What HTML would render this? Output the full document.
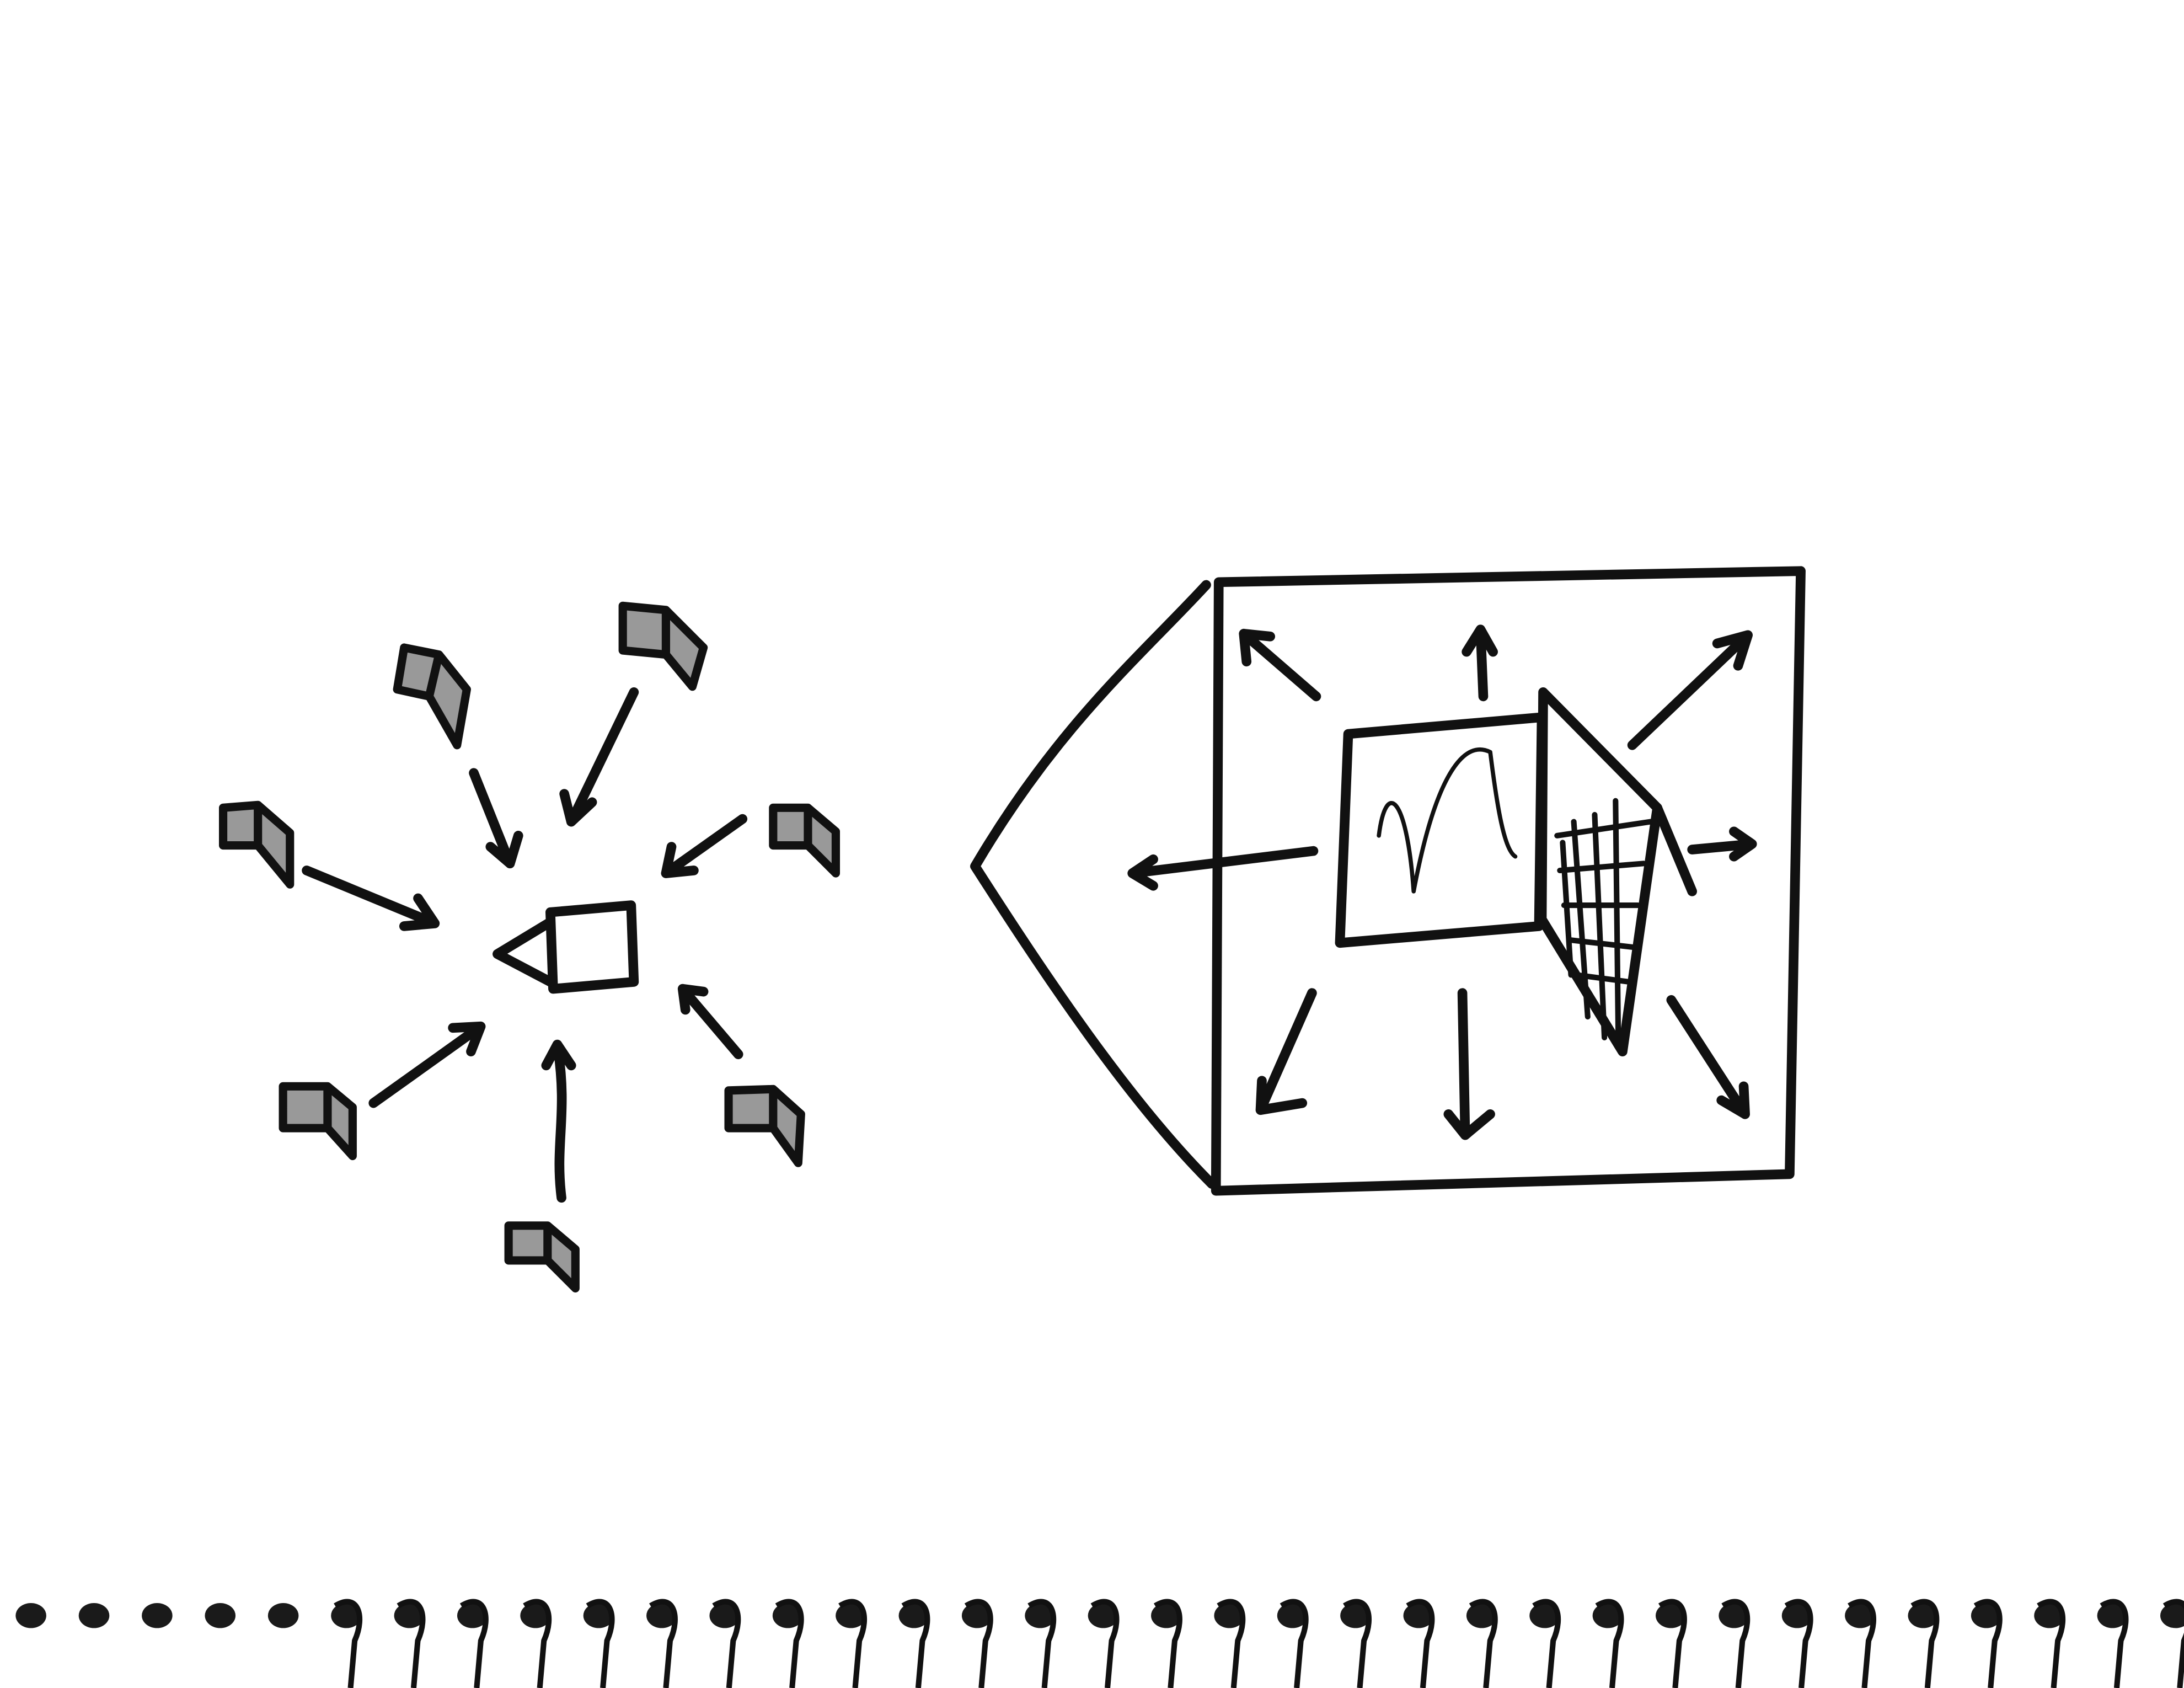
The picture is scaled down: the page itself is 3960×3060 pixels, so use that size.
<!DOCTYPE html>
<html><head><meta charset="utf-8"><style>
html,body{margin:0;padding:0;background:#fff;}
svg{display:block}
</style></head><body>
<svg width="3960" height="3060" viewBox="0 0 1568 1212" xmlns="http://www.w3.org/2000/svg">
<rect width="1568" height="1212" fill="#fff"/>
<g fill="none" stroke="#111" stroke-width="7" stroke-linecap="round" stroke-linejoin="round">
<g>
<path d="M875 418 L1293 410 L1285 843 L873 855 Z"/>
<path d="M866 420 C820 470 760 520 700 622 C750 700 810 790 870 850"/>
<path d="M968 527 L1107 515 L1105 665 L962 677 Z"/>
<path d="M990 600 C995 560 1010 570 1015 640 C1030 560 1050 530 1070 540 C1075 580 1080 610 1088 615" stroke-width="3"/>
<path d="M1108 497 L1107 660 L1165 755 L1190 580 Z"/>
<path d="M1190 580 L1215 640"/>
<path d="M1118 600 L1185 590 M1120 625 L1180 620 M1123 650 L1176 650 M1128 675 L1172 680 M1132 700 L1170 705" stroke-width="4"/>
<path d="M1130 590 L1140 730 M1145 585 L1152 745 M1160 575 L1162 750 M1122 605 L1128 700" stroke-width="4"/>
</g>
<g>
<path d="M945 500 L893 455 M893 455 L895 475 M893 455 L912 457"/>
<path d="M1065 500 L1063 452 M1063 452 L1053 468 M1063 452 L1072 468"/>
<path d="M1172 535 L1255 456 M1255 456 L1233 462 M1255 456 L1248 478"/>
<path d="M943 611 L813 627 M813 627 L828 617 M813 627 L828 636"/>
<path d="M1215 610 L1258 606 M1258 606 L1245 597 M1258 606 L1245 615"/>
<path d="M942 713 L905 797 M905 797 L906 776 M905 797 L935 792"/>
<path d="M1050 713 L1052 815 M1052 815 L1040 800 M1052 815 L1070 800"/>
<path d="M1200 718 L1253 800 M1253 800 L1236 790 M1253 800 L1252 780"/>
</g>
<g>
<path d="M395 655 L453 650 L455 705 L397 710 Z"/>
<path d="M395 662 L357 685 L395 705"/>
</g>
<g stroke-width="6" fill="#999">
<path d="M160 580 L185 578 L185 607 L160 607 Z M185 578 L208 598 L208 635 L185 607"/>
<path d="M290 465 L315 470 L308 500 L285 495 Z M315 470 L335 495 L328 535 L308 500"/>
<path d="M447 435 L478 438 L478 470 L447 467 Z M478 438 L505 465 L497 493 L478 470"/>
<path d="M555 580 L580 580 L580 607 L555 607 Z M580 580 L600 597 L600 627 L580 607"/>
<path d="M523 783 L555 782 L555 810 L523 810 Z M555 782 L575 800 L573 835 L555 810"/>
<path d="M203 780 L235 780 L235 810 L203 810 Z M235 780 L253 795 L253 830 L235 810"/>
<path d="M365 880 L393 880 L393 905 L365 905 Z M393 880 L413 897 L413 925 L393 905"/>
</g>
<g>
<path d="M220 625 L312 663 M312 663 L290 665 M312 663 L300 645"/>
<path d="M340 555 L366 620 M366 620 L352 608 M366 620 L372 600"/>
<path d="M455 497 L410 590 M410 590 L405 570 M410 590 L425 576"/>
<path d="M533 588 L478 627 M478 627 L482 608 M478 627 L498 625"/>
<path d="M530 757 L490 710 M490 710 L505 712 M490 710 L492 725"/>
<path d="M268 792 L345 737 M345 737 L325 738 M345 737 L338 755"/>
<path d="M403 860 C398 820 408 800 400 750 M400 750 L392 765 M400 750 L410 765"/>
</g>
</g>
<g id="spiral"></g>
<script>
var g=document.getElementById('spiral');
for(var i=0;i<35;i++){
  var x=22+i*45.3;
  var c=document.createElementNS('http://www.w3.org/2000/svg','ellipse');
  
  
  c.setAttribute('cx',x);c.setAttribute('cy',1160);c.setAttribute('rx',11);c.setAttribute('ry',9);
  c.setAttribute('fill','#1a1a1a');
  g.appendChild(c);
  if(i>=5){
    var p=document.createElementNS('http://www.w3.org/2000/svg','path');
    
    
    p.setAttribute('d','M'+(x-8)+' 1153 C'+(x+8)+' 1143 '+(x+14)+' 1160 '+(x+6)+' 1178 L'+(x+3)+' 1212');
    p.setAttribute('fill','none');p.setAttribute('stroke','#111');p.setAttribute('stroke-width','4');
    g.appendChild(p);
  }
}
</script>
</svg>
</body></html>
